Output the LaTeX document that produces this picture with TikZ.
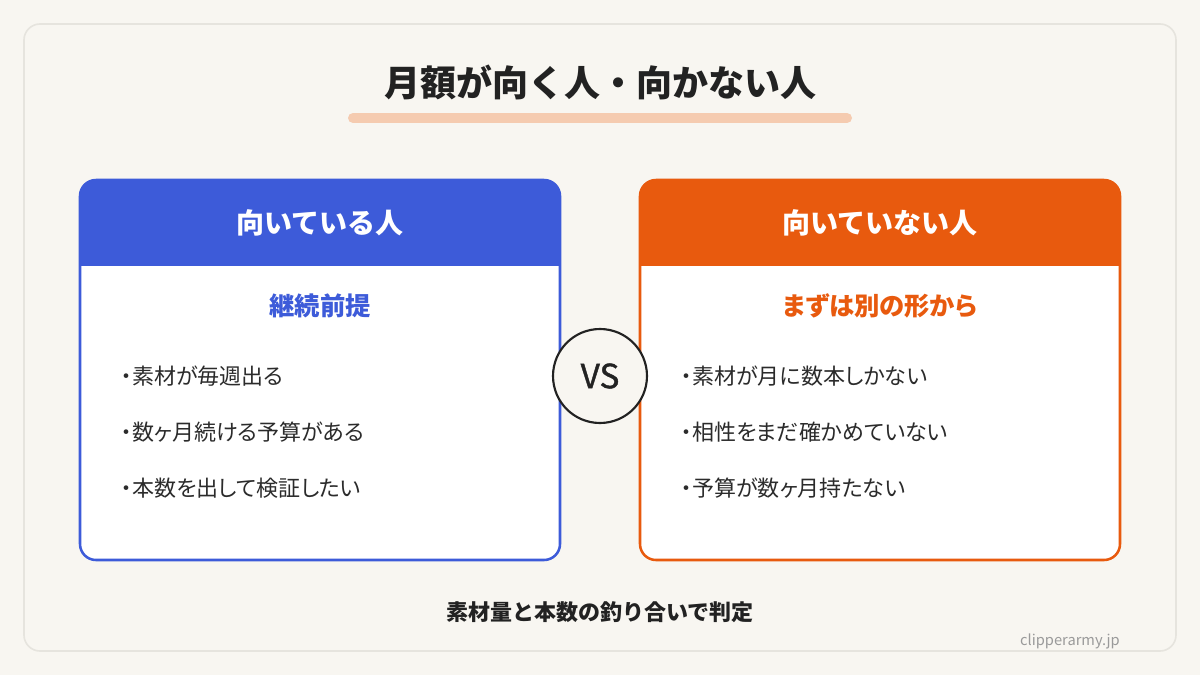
\documentclass[tikz,border=0pt]{standalone}
\usepackage{fontspec}
\setmainfont{Noto Sans CJK JP}
\setsansfont{Noto Sans CJK JP}
\newfontfamily\paltfont[RawFeature=+palt]{Noto Sans CJK JP}
\newfontfamily\vsfont[FakeBold=1.2]{Noto Sans CJK JP}
\definecolor{bg}{HTML}{F8F6F1}
\definecolor{panelborder}{HTML}{E6E4DE}
\definecolor{cblue}{HTML}{3D5BD9}
\definecolor{corange}{HTML}{E85A0E}
\definecolor{bar}{HTML}{F5CBB0}
\definecolor{ink}{HTML}{222222}
\definecolor{bodyink}{HTML}{2B2B2B}
\definecolor{wm}{HTML}{9A9A9A}
\newcommand{\fsz}[1]{\fontsize{#1}{#1}\selectfont}
\tikzset{
  titletext/.style={font=\fsz{27pt}\bfseries, text=ink, inner sep=0pt},
  headtext/.style={font=\fsz{21pt}\bfseries, text=white, inner sep=0pt},
  subtext/.style={font=\paltfont\fsz{19pt}\bfseries, inner sep=0pt},
  bullettext/.style={font=\paltfont\fsz{16.5pt}, text=bodyink, anchor=west, inner sep=0pt},
  foottext/.style={font=\fsz{16.5pt}\bfseries, text=ink, inner sep=0pt},
  wmtext/.style={font=\fsz{11pt}, text=wm, anchor=east, inner sep=0pt},
  cardline/.style={line width=1.9pt, rounded corners=12pt},
}
\begin{document}
\begin{tikzpicture}[x=0.75pt,y=-0.75pt]
\useasboundingbox (0,0) rectangle (1200,675);
\fill[bg] (0,0) rectangle (1200,675);
% outer panel
\draw[panelborder, line width=1.2pt, fill=bg, rounded corners=12pt] (24,24) rectangle (1176,651);
% title
\node[titletext] (title) at (600,82) {月額が向く人・向かない人};
\draw[bar, line width=7.5pt, line cap=round] (353,118) -- (847,118);
% left card
\fill[white, rounded corners=12pt] (80,180) rectangle (560,560);
\begin{scope}
  \clip[rounded corners=12pt] (80,180) rectangle (560,560);
  \fill[cblue] (80,180) rectangle (560,266);
\end{scope}
\draw[cblue, cardline] (80,180) rectangle (560,560);
\node[headtext] (lhead) at (320,223) {向いている人};
\node[subtext, text=cblue] (lsub) at (320,306) {継続前提};
\node[bullettext] (l1) at (121,376) {・素材が毎週出る};
\node[bullettext] (l2) at (121,432) {・数ヶ月続ける予算がある};
\node[bullettext] (l3) at (121,488) {・本数を出して検証したい};
% right card
\fill[white, rounded corners=12pt] (640,180) rectangle (1120,560);
\begin{scope}
  \clip[rounded corners=12pt] (640,180) rectangle (1120,560);
  \fill[corange] (640,180) rectangle (1120,266);
\end{scope}
\draw[corange, cardline] (640,180) rectangle (1120,560);
\node[headtext] (rhead) at (880,223) {向いていない人};
\node[subtext, text=corange] (rsub) at (880,306) {まずは別の形から};
\node[bullettext] (r1) at (681,376) {・素材が月に数本しかない};
\node[bullettext] (r2) at (681,432) {・相性をまだ確かめていない};
\node[bullettext] (r3) at (681,488) {・予算が数ヶ月持たない};
% VS
\node[circle, draw=ink, line width=1.6pt, fill=bg, minimum size=70.5pt, inner sep=0pt,
      font=\vsfont\fsz{25pt}, text=ink] (vs) at (600,376) {VS};
% footer
\node[foottext] (foot) at (600,612) {素材量と本数の釣り合いで判定};
\node[wmtext] (wm) at (1120,641) {clipperarmy.jp};
\end{tikzpicture}
\end{document}
